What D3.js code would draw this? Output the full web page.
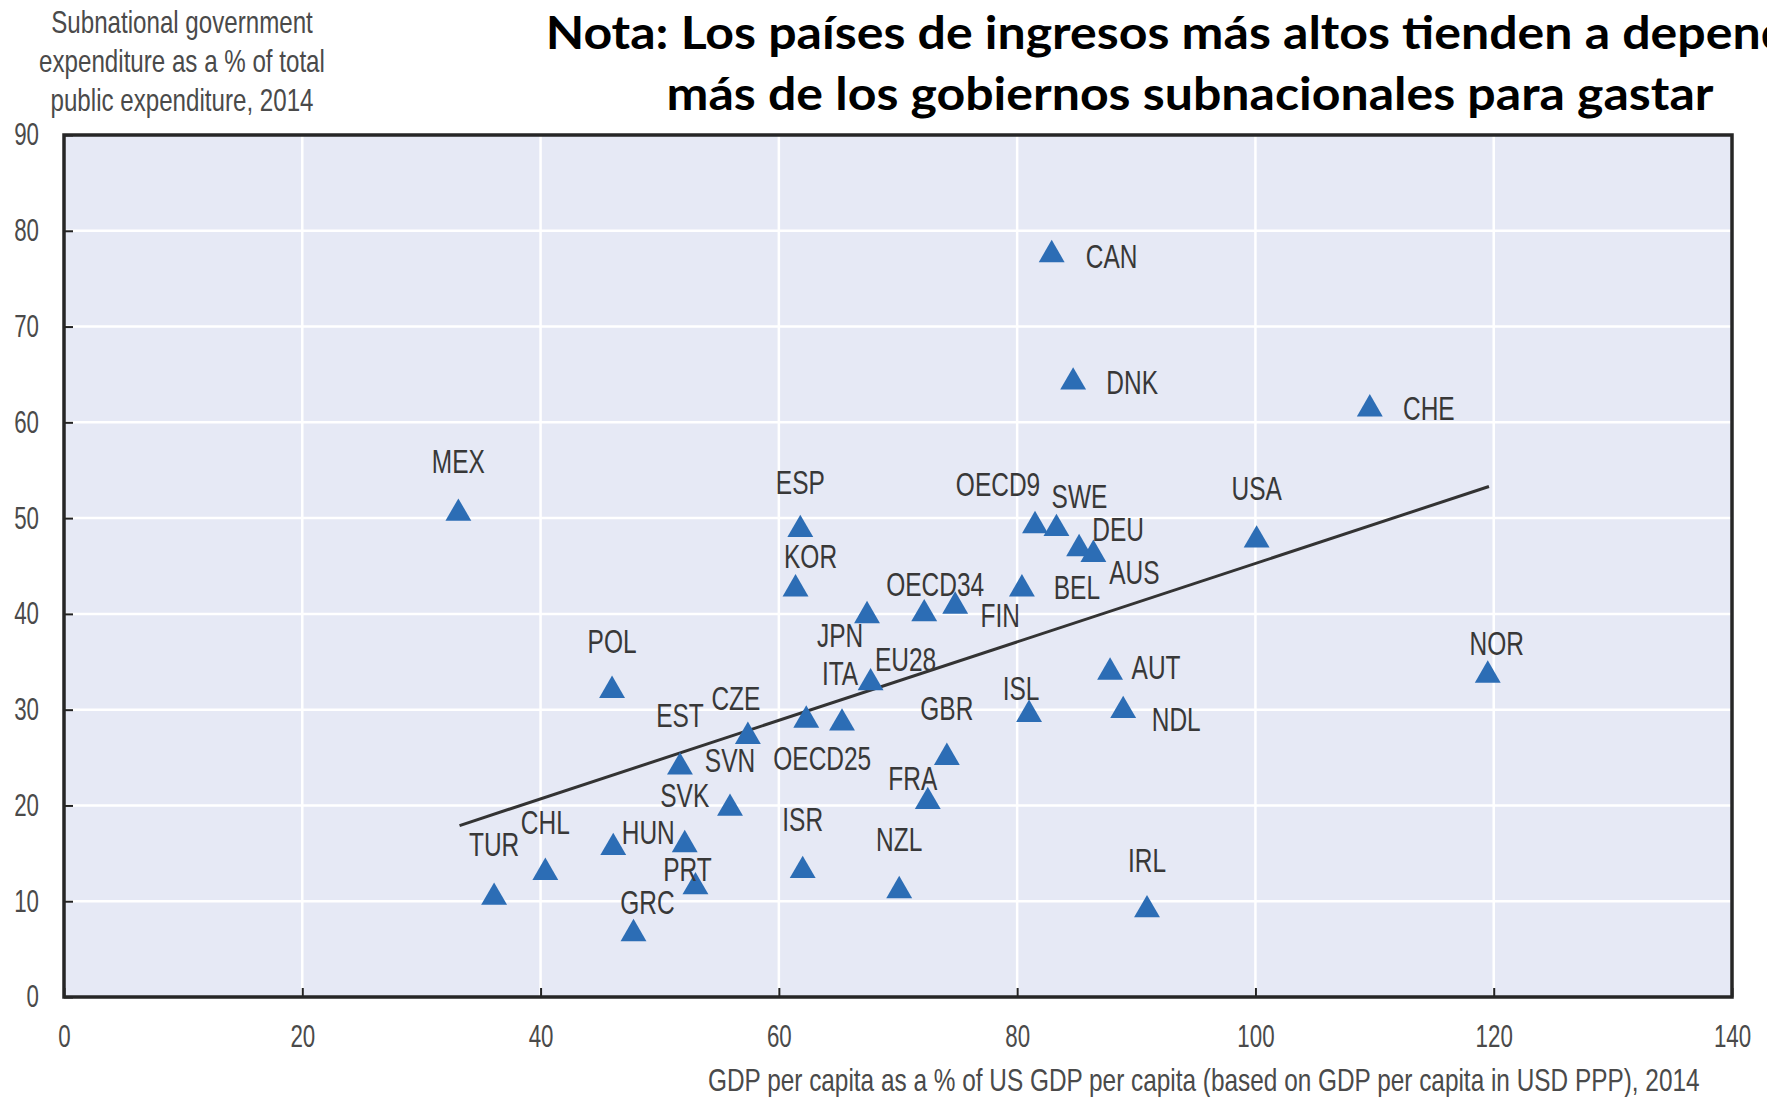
<!DOCTYPE html>
<html>
<head>
<meta charset="utf-8">
<script src="https://cdn.jsdelivr.net/npm/d3@7/dist/d3.min.js"></script>
<style>
  body { margin: 0; background: #fff; }
  svg { display: block; }
</style>
</head>
<body>
<div id="chart"></div>
<script>
// Data
const countries = ['CAN', 'DNK', 'CHE', 'MEX', 'ESP', 'KOR', 'OECD9', 'SWE', 'DEU', 'AUS',
  'USA', 'BEL', 'OECD34', 'FIN', 'JPN', 'ITA', 'EU28', 'POL', 'NOR', 'AUT',
  'NDL', 'ISL', 'CZE', 'EST', 'OECD25', 'GBR', 'SVN', 'FRA', 'SVK', 'HUN',
  'ISR', 'CHL', 'TUR', 'PRT', 'NZL', 'IRL', 'GRC'];
const gdpShare = [82.9, 84.7, 109.6, 33.1, 61.8, 61.4, 81.5, 83.3, 85.2, 86.4,
  100.1, 80.4, 72.2, 74.8, 67.4, 65.3, 67.7, 46.0, 119.5, 87.8,
  88.9, 81.0, 57.4, 51.7, 62.3, 74.1, 55.9, 72.5, 52.1, 46.1,
  62.0, 40.4, 36.1, 53.0, 70.1, 90.9, 47.8];
const subExpShare = [77.5, 64.2, 61.4, 50.5, 48.8, 42.6, 49.2, 48.9, 46.8, 46.2,
  47.7, 42.6, 40.0, 40.8, 39.8, 28.6, 32.8, 32.0, 33.6, 33.9,
  29.9, 29.5, 27.2, 24.0, 28.9, 25.0, 19.7, 20.4, 15.9, 15.6,
  13.2, 13.0, 10.4, 11.5, 11.1, 9.1, 6.6];

// Fitted line end points
const trendX = [33.2, 119.6];
const trendY = [17.9, 53.3];

const xTicks = [0, 20, 40, 60, 80, 100, 120, 140];
const yTicks = [0, 10, 20, 30, 40, 50, 60, 70, 80, 90];

const titleLines = ['Nota: Los países de ingresos más altos tienden a depender',
  'más de los gobiernos subnacionales para gastar'];
const yTitleLines = ['Subnational government', 'expenditure as a % of total', 'public expenditure, 2014'];
const xTitle = 'GDP per capita as a  %  of US GDP per capita (based on GDP per capita in USD PPP), 2014';

// Label placement relative to each marker (px)
const labelOffset = {
  CAN: [60, 1], DNK: [59, 0], CHE: [59, -1], MEX: [0, -52], ESP: [0, -48],
  KOR: [15, -33], OECD9: [-37, -42], SWE: [23, -33], DEU: [39, -20], AUS: [41, 17],
  USA: [0, -52], BEL: [55, -2], OECD34: [11, -30], FIN: [45, 9], JPN: [-27, 19],
  ITA: [-2, -50], EU28: [35, -24], POL: [0, -50], NOR: [9, -32], AUT: [46, -5],
  NDL: [53, 8], ISL: [-8, -27], CZE: [-12, -39], EST: [0, -52], OECD25: [16, 38],
  GBR: [0, -50], SVN: [0, -48], FRA: [-15, -24], SVK: [0, -50], HUN: [35, -16],
  ISR: [0, -52], CHL: [0, -51], TUR: [0, -53], PRT: [-8, -18], NZL: [0, -52],
  IRL: [0, -50], GRC: [14, -32]
};

const points = countries.map((c, i) => ({ code: c, x: gdpShare[i], y: subExpShare[i] }));

const width = 1767;
const height = 1097;
const plot = { left: 64, right: 1732, top: 135, bottom: 997 };
const font = "'Liberation Sans', Arial, sans-serif";
const narrow = 0.72;

const svg = d3.select('#chart').append('svg')
  .attr('width', width)
  .attr('height', height);

const x = d3.scaleLinear().domain([0, 140]).range([plot.left, plot.right]);
const y = d3.scaleLinear().domain([0, 90]).range([plot.bottom, plot.top]);

// Plot background
svg.append('rect')
  .attr('x', plot.left).attr('y', plot.top)
  .attr('width', plot.right - plot.left)
  .attr('height', plot.bottom - plot.top)
  .attr('fill', '#e6e9f5');

// Grid
const grid = svg.append('g');
grid.selectAll('line.h')
  .data(yTicks.slice(1, -1))
  .enter().append('line')
  .attr('x1', plot.left).attr('x2', plot.right)
  .attr('y1', d => y(d)).attr('y2', d => y(d))
  .attr('stroke', '#fff').attr('stroke-width', 2.5);
grid.selectAll('line.v')
  .data(xTicks.slice(1, -1))
  .enter().append('line')
  .attr('y1', plot.top).attr('y2', plot.bottom)
  .attr('x1', d => x(d)).attr('x2', d => x(d))
  .attr('stroke', '#fff').attr('stroke-width', 2.5);

// Axes
const yAxis = d3.axisLeft(y).tickValues(yTicks).tickSizeInner(-9).tickSizeOuter(0).tickPadding(25);
const xAxis = d3.axisBottom(x).tickValues(xTicks).tickSizeInner(-9).tickSizeOuter(0).tickPadding(28);

function styleAxis(g) {
  g.select('.domain').remove();
  g.selectAll('line').attr('stroke', '#222').attr('stroke-width', 2);
  g.selectAll('text')
    .attr('font-family', font)
    .attr('font-size', 31)
    .attr('fill', '#4a4a4a');
}

const gy = svg.append('g')
  .attr('transform', `translate(${plot.left},0)`)
  .call(yAxis)
  .call(styleAxis);
gy.selectAll('.tick text').attr('text-anchor', 'end')
  .each(function () {
    const t = d3.select(this);
    const xx = +t.attr('x');
    t.attr('x', null)
      .attr('transform', `translate(${xx},0) scale(0.72,1)`);
  });

const gx = svg.append('g')
  .attr('transform', `translate(0,${plot.bottom})`)
  .call(xAxis)
  .call(styleAxis);
gx.selectAll('.tick text').each(function () {
  const t = d3.select(this);
  const yy = +t.attr('y');
  t.attr('y', null).attr('transform', `translate(0,${yy}) scale(0.72,1)`);
});

// Frame
svg.append('rect')
  .attr('x', plot.left).attr('y', plot.top)
  .attr('width', plot.right - plot.left)
  .attr('height', plot.bottom - plot.top)
  .attr('fill', 'none')
  .attr('stroke', '#262626')
  .attr('stroke-width', 3.5);

// Trend line
svg.append('line')
  .attr('x1', x(trendX[0])).attr('y1', y(trendY[0]))
  .attr('x2', x(trendX[1])).attr('y2', y(trendY[1]))
  .attr('stroke', '#333')
  .attr('stroke-width', 3);

// Markers
const tri = d3.symbol().type(d3.symbolTriangle).size(290);
svg.append('g').selectAll('path')
  .data(points)
  .enter().append('path')
  .attr('d', tri)
  .attr('transform', d => `translate(${x(d.x)},${y(d.y)})`)
  .attr('fill', '#2c6db5');

// Country labels
svg.append('g').selectAll('text')
  .data(points)
  .enter().append('text')
  .attr('transform', d => {
    const o = labelOffset[d.code] || [0, -50];
    return `translate(${x(d.x) + o[0]},${y(d.y) + o[1]}) scale(${narrow},1)`;
  })
  .attr('text-anchor', 'middle')
  .attr('dominant-baseline', 'central')
  .attr('font-family', font)
  .attr('font-size', 34)
  .attr('fill', '#383838')
  .text(d => d.code);

// Y axis title
const yt = svg.append('g');
const ytNodes = yTitleLines.map(t => yt.append('text')
  .attr('font-family', font)
  .attr('font-size', 31)
  .attr('fill', '#4a4a4a')
  .attr('dominant-baseline', 'central')
  .text(t));
const ytK = 286 / ytNodes[1].node().getComputedTextLength();
const ytY = [22, 61, 100];
ytNodes.forEach((n, i) => n.attr('text-anchor', 'middle')
  .attr('transform', `translate(182,${ytY[i]}) scale(${ytK},1)`));

// X axis title
const xt = svg.append('text')
  .attr('font-family', font)
  .attr('font-size', 31)
  .attr('fill', '#4a4a4a')
  .attr('dominant-baseline', 'central')
  .text(xTitle);
const xtK = 992 / xt.node().getComputedTextLength();
xt.attr('text-anchor', 'start')
  .attr('transform', `translate(708,1080) scale(${xtK},1)`);

// Title (runs past the right edge, as in the source image)
const titleFont = "Lato, 'Open Sans', sans-serif";
const tNodes = titleLines.map(t => svg.append('text')
  .attr('font-family', titleFont)
  .attr('font-weight', 700)
  .attr('font-size', 46)
  .attr('fill', '#000')
  .attr('text-anchor', 'middle')
  .text(t));
const tK = 1047 / tNodes[1].node().getComputedTextLength();
const tY = [49, 110];
tNodes.forEach((n, i) => n.attr('transform', `translate(1190,${tY[i]}) scale(${tK},1)`));
</script>
</body>
</html>
